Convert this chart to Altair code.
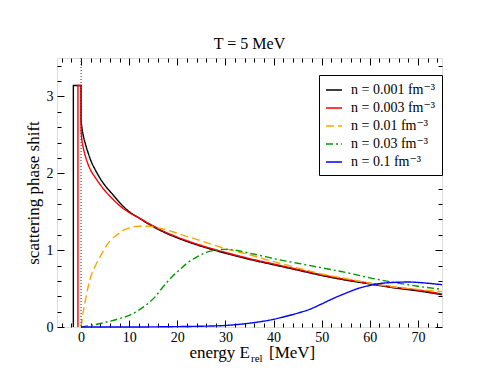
import altair as alt
import pandas as pd

FONT = "'Liberation Serif', 'DejaVu Serif', 'Times New Roman', serif"

series = ["n = 0.001 fm⁻³", "n = 0.003 fm⁻³", "n = 0.01 fm⁻³", "n = 0.03 fm⁻³", "n = 0.1 fm⁻³"]
colors = ["#000000", "#ff0000", "#ffa500", "#009900", "#0000ff"]
dashes = [[1, 0], [1, 0], [8, 4], [7, 3, 2, 3], [1, 0]]

# smooth parts (E >= 0)
E_black = [0, 0.2, 0.5, 1, 1.5, 2, 3, 4, 5, 6.5, 8, 10, 12, 14, 17, 20, 25, 30, 35, 40, 45, 50, 55, 60, 65, 70, 75]
phi_black = [2.68, 2.58, 2.48, 2.36, 2.26, 2.17, 2.04, 1.93, 1.84, 1.73, 1.62, 1.50, 1.42, 1.34, 1.24, 1.16, 1.05, 0.96, 0.88, 0.81, 0.74, 0.67, 0.61, 0.56, 0.51, 0.47, 0.42]

E_red = [0, 0.2, 0.5, 1, 1.5, 2, 3, 4, 5, 6.5, 8, 10, 12, 14, 17, 20, 25, 30, 35, 40, 45, 50, 55, 60, 65, 70, 75]
phi_red = [2.55, 2.42, 2.32, 2.20, 2.11, 2.04, 1.94, 1.85, 1.77, 1.67, 1.58, 1.49, 1.42, 1.35, 1.25, 1.17, 1.06, 0.97, 0.89, 0.82, 0.75, 0.68, 0.62, 0.57, 0.52, 0.48, 0.43]

E_orange = [0, 0.4, 1, 1.8, 3, 4, 5, 6, 7.5, 8.8, 10, 12, 14, 16, 18, 20.4, 25, 30, 35, 40, 45, 50, 55, 60, 65, 70, 75]
phi_orange = [0.0, 0.18, 0.38, 0.61, 0.80, 0.92, 1.03, 1.12, 1.20, 1.26, 1.29, 1.31, 1.31, 1.29, 1.26, 1.21, 1.12, 1.02, 0.94, 0.85, 0.77, 0.69, 0.63, 0.57, 0.52, 0.49, 0.46]

E_green = [0, 2, 5, 8, 10, 12, 14, 15.5, 17, 19, 20.4, 22, 24, 26, 28, 30, 32, 35, 38, 40, 45, 50, 55, 60, 65, 70, 75]
phi_green = [0.0, 0.02, 0.06, 0.11, 0.15, 0.22, 0.31, 0.40, 0.52, 0.66, 0.74, 0.83, 0.91, 0.97, 1.00, 1.01, 1.00, 0.96, 0.92, 0.89, 0.83, 0.77, 0.71, 0.64, 0.58, 0.53, 0.49]

E_blue = [0, 10, 20, 25, 30, 35, 40, 42, 45, 47.5, 50, 52, 55, 58, 60, 62, 65, 68, 71, 75]
phi_blue = [0.0, 0.0, 0.005, 0.01, 0.02, 0.05, 0.10, 0.13, 0.18, 0.23, 0.30, 0.36, 0.44, 0.51, 0.54, 0.565, 0.58, 0.585, 0.575, 0.55]

# bound-state steps (E <= 0)
E_step_black = [-1.6, -1.6, 0, 0]
phi_step_black = [0.0, 3.1416, 3.1416, 2.68]
E_step_red = [-0.65, -0.65, 0, 0]
phi_step_red = [0.0, 3.1416, 3.1416, 2.55]

x_major = [0, 10, 20, 30, 40, 50, 60, 70]
x_minor = [-4, -2, 2, 4, 6, 8, 12, 14, 16, 18, 22, 24, 26, 28, 32, 34, 36, 38, 42, 44, 46, 48,
           52, 54, 56, 58, 62, 64, 66, 68, 72, 74]
y_major = [0, 1, 2, 3]
y_minor = [0.2, 0.4, 0.6, 0.8, 1.2, 1.4, 1.6, 1.8, 2.2, 2.4, 2.6, 2.8, 3.2, 3.4]

rows = []
for name, es, ps in zip(series, [E_black, E_red, E_orange, E_green, E_blue],
                        [phi_black, phi_red, phi_orange, phi_green, phi_blue]):
    for i, (e, p) in enumerate(zip(es, ps)):
        rows.append({"series": name, "E": e, "phi": p, "order": i})
df = pd.DataFrame(rows)

srows = []
for name, es, ps in zip(series[:2], [E_step_black, E_step_red], [phi_step_black, phi_step_red]):
    for i, (e, p) in enumerate(zip(es, ps)):
        srows.append({"series": name, "E": e, "phi": p, "order": i})
dfs = pd.DataFrame(srows)

W, H = 385, 269
xscale = alt.Scale(domain=[-5, 75], nice=False, zero=False)
yscale = alt.Scale(domain=[0, 3.5], nice=False, zero=False)

legend = alt.Legend(
    title=None, orient="none", legendX=262, legendY=17, direction="vertical",
    fillColor="white", strokeColor="black", padding=6,
    symbolType="stroke", symbolSize=256, symbolStrokeWidth=1.5,
    labelFont=FONT, labelFontSize=14, labelColor="black", labelOffset=8, rowPadding=2,
)
color = alt.Color("series:N", scale=alt.Scale(domain=series, range=colors), legend=legend)
dash = alt.StrokeDash("series:N", scale=alt.Scale(domain=series, range=dashes), legend=legend)

lines = alt.Chart(df).mark_line(strokeWidth=1.4, interpolate="monotone").encode(
    x=alt.X("E:Q", scale=xscale, axis=alt.Axis(
        orient="bottom", values=x_major, ticks=False, domain=False, grid=False,
        labelFont=FONT, labelFontSize=14, labelColor="black", labelPadding=3, title=None)),
    y=alt.Y("phi:Q", scale=yscale, axis=alt.Axis(
        orient="left", values=y_major, ticks=False, domain=False, grid=False,
        labelFont=FONT, labelFontSize=14, labelColor="black", labelPadding=4,
        title="scattering phase shift", titleFont=FONT, titleFontSize=17,
        titleFontWeight="normal", titleColor="black", titlePadding=4)),
    color=color, strokeDash=dash, order="order:Q",
)

steps = alt.Chart(dfs).mark_line(strokeWidth=1.4).encode(
    x=alt.X("E:Q", scale=xscale, axis=None), y=alt.Y("phi:Q", scale=yscale, axis=None),
    color=alt.Color("series:N", scale=alt.Scale(domain=series, range=colors), legend=None),
    order="order:Q",
)

zero_line = alt.Chart(pd.DataFrame({"E": [0]})).mark_rule(
    color="#333333", strokeWidth=1, strokeDash=[1, 2]
).encode(x=alt.X("E:Q", scale=xscale, axis=None))


def tick_layer(xorient, yorient, xvals, yvals, size):
    return alt.Chart(df).mark_point(opacity=0).encode(
        x=alt.X("E:Q", scale=xscale, axis=alt.Axis(
            orient=xorient, values=xvals, offset=-size, tickSize=size, tickColor="black",
            tickWidth=1, labels=False, domain=False, grid=False, title=None)),
        y=alt.Y("phi:Q", scale=yscale, axis=alt.Axis(
            orient=yorient, values=yvals, offset=-size, tickSize=size, tickColor="black",
            tickWidth=1, labels=False, domain=False, grid=False, title=None)),
    )


t1 = tick_layer("bottom", "left", x_major, y_major, 7)
t2 = tick_layer("bottom", "left", x_minor, y_minor, 4)
t3 = tick_layer("top", "right", x_major, y_major, 7)
t4 = tick_layer("top", "right", x_minor, y_minor, 4)

xt1 = alt.Chart(pd.DataFrame({"t": ["energy E"]})).mark_text(
    font=FONT, fontSize=17, align="right", baseline="alphabetic", color="black"
).encode(text="t:N", x=alt.value(193), y=alt.value(H + 31))
xt2 = alt.Chart(pd.DataFrame({"t": ["rel"]})).mark_text(
    font=FONT, fontSize=11, align="left", baseline="alphabetic", color="black"
).encode(text="t:N", x=alt.value(194), y=alt.value(H + 35))
xt3 = alt.Chart(pd.DataFrame({"t": ["[MeV]"]})).mark_text(
    font=FONT, fontSize=17, align="left", baseline="alphabetic", color="black"
).encode(text="t:N", x=alt.value(212), y=alt.value(H + 31))

chart = alt.layer(lines, steps, zero_line, t1, t2, t3, t4, xt1, xt2, xt3).resolve_axis(
    x="independent", y="independent"
).properties(
    width=W, height=H,
    title=alt.TitleParams("T = 5 MeV", font=FONT, fontSize=16, fontWeight="normal",
                          color="black", anchor="middle", frame="group", offset=6),
    padding={"left": 49, "top": 50, "right": 48, "bottom": 50},
    autosize=alt.AutoSizeParams(type="none"),
).configure_view(stroke="black", strokeWidth=1.2).configure_legend(
    labelFont=FONT, labelFontSize=14, labelColor="black"
).configure(background="white", font=FONT)

chart.save("out.html", embed_options={"renderer": "svg", "actions": False})
